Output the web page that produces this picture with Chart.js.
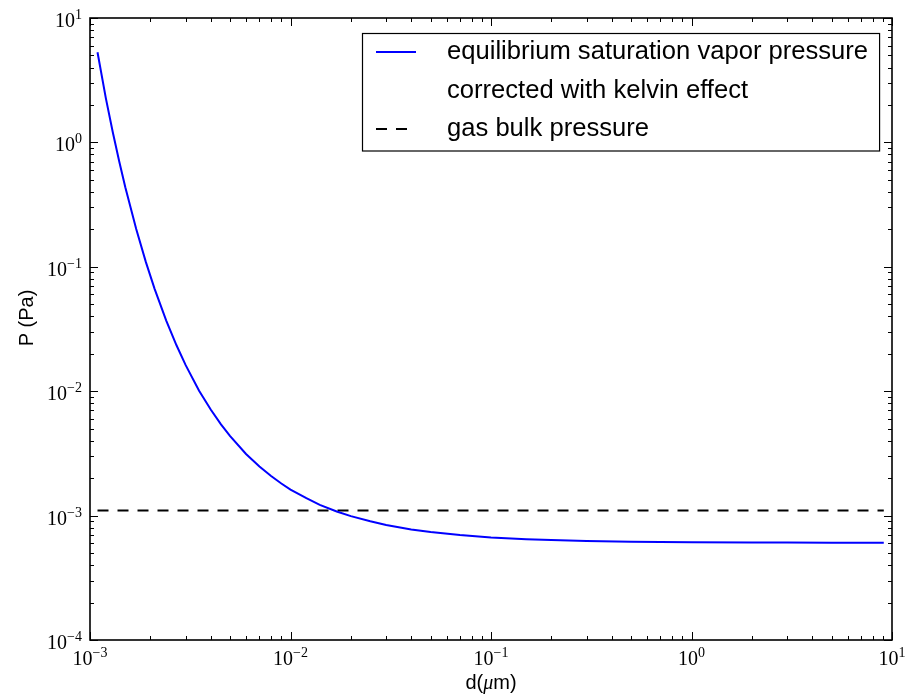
<!DOCTYPE html>
<html>
<head>
<meta charset="utf-8">
<script src="https://cdn.jsdelivr.net/npm/chart.js@4.4.0/dist/chart.umd.min.js"></script>
<style>
  html, body { margin: 0; padding: 0; background: #fff; }
  #wrap { width: 907px; height: 696px; }
</style>
</head>
<body>
<div id="wrap"><canvas id="kelvin-chart" width="907" height="696"></canvas></div>
<script>
// particle diameter (um) and equilibrium vapor pressure over the droplet (Pa)
const diameters = [0.00109, 0.0012, 0.0013, 0.0014, 0.0015, 0.0017, 0.0019, 0.0021, 0.0024, 0.0027,
  0.003, 0.0035, 0.004, 0.0045, 0.005, 0.006, 0.007, 0.008, 0.009, 0.01,
  0.012, 0.014, 0.017, 0.02, 0.025, 0.03, 0.04, 0.05, 0.07, 0.1,
  0.15, 0.2, 0.3, 0.5, 0.7, 1, 2, 3, 5, 9.1];
const pressures = [5.3, 2.26, 1.2, 0.70, 0.436, 0.201, 0.109, 0.0665, 0.037, 0.0234,
  0.0162, 0.0101, 0.00713, 0.00542, 0.00436, 0.00313, 0.00248, 0.00208, 0.00181, 0.00162,
  0.00138, 0.00122, 0.00108, 0.00099, 0.0009, 0.00084, 0.000774, 0.000737, 0.000697, 0.000668,
  0.000646, 0.000636, 0.000625, 0.000617, 0.000614, 0.000611, 0.000608, 0.000607, 0.000606, 0.000606];

// bulk gas pressure, flat over the same diameter range
const bulkDiameters = [0.00109, 9.1];
const bulkPressures = [0.0011, 0.0011];

const xDecades = [-3, -2, -1, 0, 1];
const yDecades = [-4, -3, -2, -1, 0, 1];
const seriesLabels = [
  'equilibrium saturation vapor pressure\ncorrected with kelvin effect',
  'gas bulk pressure'
];
const xTitle = ['d(', '\u03bc', 'm)'];
const yTitle = 'P (Pa)';

const SANS = '"Liberation Sans", Arial, sans-serif';
const SERIF = '"Liberation Serif", "DejaVu Serif", serif';

function toPoints(xs, ys) {
  return xs.map((x, i) => ({ x, y: ys[i] }));
}

function expText(e) {
  return e < 0 ? '\u2212' + (-e) : String(e);
}

// draws 10^e with a raised exponent; anchor is 'center' or 'right'
function drawPower(ctx, e, px, baseY, anchor) {
  ctx.font = '20px ' + SERIF;
  const wb = ctx.measureText('10').width;
  ctx.font = '14px ' + SERIF;
  const ex = expText(e);
  const we = ctx.measureText(ex).width;
  const w = wb + we;
  const start = anchor === 'center' ? px - w / 2 : px - w;
  ctx.textAlign = 'left';
  ctx.textBaseline = 'alphabetic';
  ctx.font = '20px ' + SERIF;
  ctx.fillText('10', start, baseY);
  ctx.font = '14px ' + SERIF;
  ctx.fillText(ex, start + wb, baseY - 8);
}

// frame, inward ticks on all four sides, tick labels and axis titles
const axesPlugin = {
  id: 'mplAxes',
  afterDraw(chart) {
    const { ctx, chartArea: a, scales: { x, y } } = chart;
    ctx.save();
    ctx.strokeStyle = '#000';
    ctx.fillStyle = '#000';
    ctx.lineWidth = 1;

    const xTick = (v, len) => {
      const px = Math.round(x.getPixelForValue(v)) + 0.5;
      ctx.beginPath();
      ctx.moveTo(px, a.bottom); ctx.lineTo(px, a.bottom - len);
      ctx.moveTo(px, a.top); ctx.lineTo(px, a.top + len);
      ctx.stroke();
    };
    const yTick = (v, len) => {
      const py = Math.round(y.getPixelForValue(v)) + 0.5;
      ctx.beginPath();
      ctx.moveTo(a.left, py); ctx.lineTo(a.left + len, py);
      ctx.moveTo(a.right, py); ctx.lineTo(a.right - len, py);
      ctx.stroke();
    };

    xDecades.forEach((e, i) => {
      xTick(Math.pow(10, e), 8);
      if (i < xDecades.length - 1) {
        for (let m = 2; m <= 9; m++) xTick(m * Math.pow(10, e), 4);
      }
    });
    yDecades.forEach((e, i) => {
      yTick(Math.pow(10, e), 8);
      if (i < yDecades.length - 1) {
        for (let m = 2; m <= 9; m++) yTick(m * Math.pow(10, e), 4);
      }
    });

    ctx.lineWidth = 1.6;
    ctx.strokeRect(a.left, a.top, a.right - a.left, a.bottom - a.top);

    xDecades.forEach(e => {
      drawPower(ctx, e, x.getPixelForValue(Math.pow(10, e)), a.bottom + 25, 'center');
    });
    yDecades.forEach(e => {
      drawPower(ctx, e, a.left - 8, y.getPixelForValue(Math.pow(10, e)) + 9, 'right');
    });

    // x title: sans text around an italic mu
    const fonts = ['20px ' + SANS, 'italic 20px ' + SERIF, '20px ' + SANS];
    const widths = xTitle.map((t, i) => { ctx.font = fonts[i]; return ctx.measureText(t).width; });
    let tx = (a.left + a.right) / 2 - widths.reduce((s, w) => s + w, 0) / 2;
    ctx.textAlign = 'left';
    ctx.textBaseline = 'alphabetic';
    xTitle.forEach((t, i) => {
      ctx.font = fonts[i];
      ctx.fillText(t, tx, 689);
      tx += widths[i];
    });

    ctx.translate(33, 318);
    ctx.rotate(-Math.PI / 2);
    ctx.font = '20px ' + SANS;
    ctx.textAlign = 'center';
    ctx.fillText(yTitle, 0, 0);
    ctx.restore();
  }
};

// boxed legend in the upper right, one row per text line
const legendPlugin = {
  id: 'boxLegend',
  afterDraw(chart) {
    const ctx = chart.ctx;
    const box = { left: 362, top: 33, row: 38.5, pad: 11 };
    const handleX = [box.left + 14, box.left + 54];
    const textX = box.left + 85;
    ctx.save();
    ctx.font = '25.6px ' + SANS;
    let maxW = 0;
    let rows = 0;
    chart.data.datasets.forEach(ds => {
      ds.label.split('\n').forEach(line => {
        maxW = Math.max(maxW, ctx.measureText(line).width);
        rows++;
      });
    });
    const right = textX + maxW + box.pad;
    const bottom = box.top + rows * box.row + 2;
    ctx.fillStyle = '#fff';
    ctx.fillRect(box.left, box.top, right - box.left, bottom - box.top);
    ctx.strokeStyle = '#000';
    ctx.lineWidth = 1.2;
    ctx.strokeRect(box.left + 0.5, box.top + 0.5, right - box.left, bottom - box.top);

    let rowY = box.top + 19;
    chart.data.datasets.forEach(ds => {
      ctx.strokeStyle = ds.borderColor;
      ctx.lineWidth = ds.borderWidth;
      ctx.setLineDash(ds.borderDash || []);
      ctx.beginPath();
      ctx.moveTo(handleX[0], rowY);
      ctx.lineTo(handleX[1], rowY);
      ctx.stroke();
      ctx.setLineDash([]);
      ctx.fillStyle = '#000';
      ctx.textAlign = 'left';
      ctx.textBaseline = 'middle';
      ds.label.split('\n').forEach(line => {
        ctx.fillText(line, textX, rowY);
        rowY += box.row;
      });
    });
    ctx.restore();
  }
};

const ctx = document.getElementById('kelvin-chart').getContext('2d');
new Chart(ctx, {
  type: 'line',
  data: {
    datasets: [
      {
        label: seriesLabels[0],
        data: toPoints(diameters, pressures),
        borderColor: '#0000ff',
        borderWidth: 2,
        pointRadius: 0,
        tension: 0,
        fill: false
      },
      {
        label: seriesLabels[1],
        data: toPoints(bulkDiameters, bulkPressures),
        borderColor: '#000000',
        borderWidth: 2,
        borderDash: [11, 9],
        pointRadius: 0,
        tension: 0,
        fill: false
      }
    ]
  },
  options: {
    responsive: false,
    animation: false,
    devicePixelRatio: 1,
    layout: { padding: { left: 90, right: 15, top: 18, bottom: 56 } },
    scales: {
      x: { type: 'logarithmic', min: 1e-3, max: 10, display: false },
      y: { type: 'logarithmic', min: 1e-4, max: 10, display: false }
    },
    plugins: {
      legend: { display: false },
      tooltip: { enabled: false }
    }
  },
  plugins: [axesPlugin, legendPlugin]
});
</script>
</body>
</html>
